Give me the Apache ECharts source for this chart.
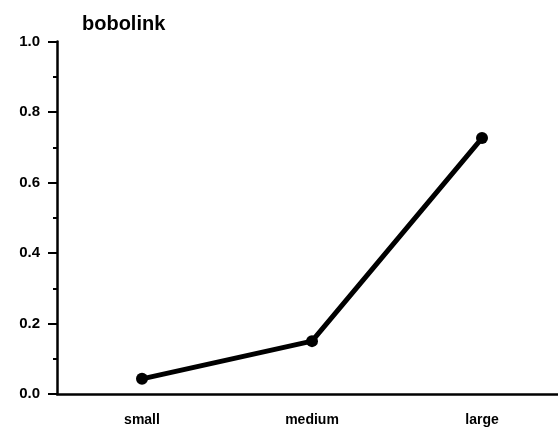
<!DOCTYPE html>
<html>
<head>
<meta charset="utf-8">
<script src="https://cdn.jsdelivr.net/npm/echarts@6/dist/echarts.min.js"></script>
<style>
  html, body { margin: 0; padding: 0; background: #fff; }
  #chart { width: 558px; height: 433px; }
</style>
</head>
<body>
<div id="chart"></div>
<script>
// data
const sizes = ['small', 'medium', 'large'];
const bobolink = [0.043, 0.15, 0.726];
const yTicks = [0, 0.2, 0.4, 0.6, 0.8, 1.0];

const font = 'Liberation Sans, Arial, sans-serif';
const chart = echarts.init(document.getElementById('chart'));

chart.setOption({
  animation: false,
  title: {
    text: 'bobolink',
    left: 77,
    top: 9,
    textStyle: { fontFamily: font, fontSize: 20, fontWeight: 'bold', color: '#000' }
  },
  // plot runs a little past the right edge, like the reference
  grid: { left: 57, width: 510, top: 41.5, bottom: 39, outerBoundsMode: 'none' },
  xAxis: [
    {
      type: 'category',
      data: sizes,
      boundaryGap: true,
      axisLine: { lineStyle: { color: '#000', width: 2.5 } },
      axisTick: { alignWithLabel: true, length: 9, lineStyle: { color: '#000', width: 2 } },
      axisLabel: { margin: 19, color: '#000', fontFamily: font, fontSize: 14, fontWeight: 'bold' }
    },
    {
      // short ticks between the categories
      type: 'category',
      data: sizes,
      boundaryGap: true,
      position: 'bottom',
      axisLine: { show: false },
      axisTick: { length: 4, lineStyle: { color: '#000', width: 2 } },
      axisLabel: { show: false }
    }
  ],
  yAxis: {
    type: 'value',
    min: yTicks[0],
    max: yTicks[yTicks.length - 1],
    interval: 0.2,
    splitLine: { show: false },
    axisLine: { show: true, lineStyle: { color: '#000', width: 2.5 } },
    axisTick: { show: true, length: 9, lineStyle: { color: '#000', width: 2 } },
    minorTick: { show: true, splitNumber: 2, length: 4, lineStyle: { color: '#000', width: 2 } },
    axisLabel: {
      margin: 17,
      color: '#000',
      fontFamily: font,
      fontSize: 15,
      fontWeight: 'bold',
      formatter: v => v.toFixed(1)
    }
  },
  series: [{
    type: 'line',
    data: bobolink,
    symbol: 'circle',
    symbolSize: 12,
    lineStyle: { color: '#000', width: 5 },
    itemStyle: { color: '#000' }
  }]
});
</script>
</body>
</html>
